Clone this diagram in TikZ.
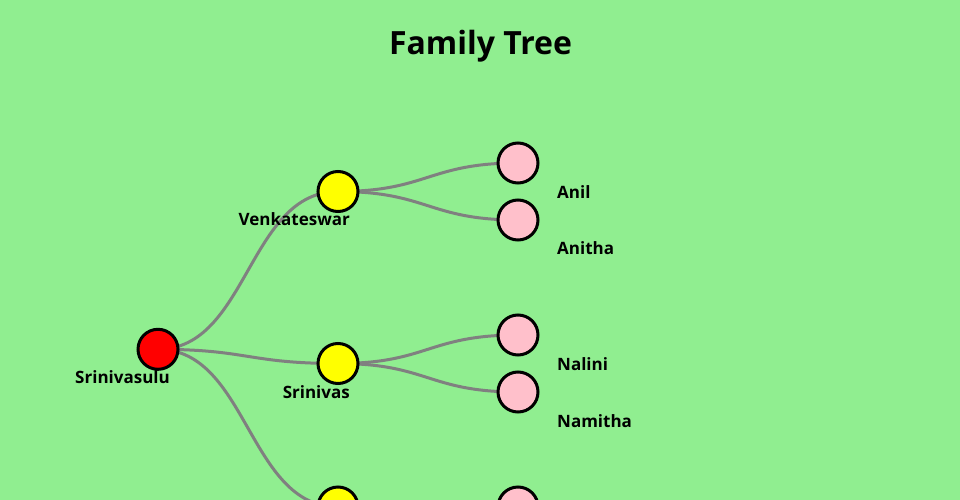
\documentclass[tikz,border=0pt]{standalone}
\usepackage{fontspec}
\setmainfont{Open Sans}
\usetikzlibrary{backgrounds}
\definecolor{bgc}{HTML}{90EE90}
\definecolor{linkc}{HTML}{808080}
\definecolor{rootc}{HTML}{FF0000}
\definecolor{midc}{HTML}{FFFF00}
\definecolor{leafc}{HTML}{FFC0CB}
\tikzset{
  person/.style={circle, draw=black, line width=3pt, minimum size=40pt, inner sep=0pt},
  rootnode/.style={person, fill=rootc},
  midnode/.style={person, fill=midc},
  leafnode/.style={person, fill=leafc},
  link/.style={draw=linkc, line width=3pt},
  lbl/.style={font=\fontsize{17}{20}\selectfont\bfseries, inner sep=0pt},
  ttl/.style={font=\fontsize{32}{38}\selectfont\bfseries, inner sep=0pt}
}
\begin{document}
\begin{tikzpicture}[x=1pt,y=-1pt]
\useasboundingbox (0,0) rectangle (960,500);
\clip (0,0) rectangle (960,500);
\node[ttl, anchor=base] (title) at (480.5,55) {Family Tree};
\node[rootnode] (root) at (158,349.3) {};
\node[midnode] (v) at (338,191.5) {};
\node[midnode] (s) at (338,363.5) {};
\node[midnode] (t) at (338,507) {};
\node[leafnode] (anil) at (518,163) {};
\node[leafnode] (anitha) at (518,220) {};
\node[leafnode] (nalini) at (518,335) {};
\node[leafnode] (namitha) at (518,392) {};
\node[leafnode] (tl) at (518,507) {};
\begin{scope}[on background layer]
\fill[bgc] (0,0) rectangle (960,500);
\draw[link] (root.center) .. controls +(90,0) and +(-90,0) .. (v.center);
\draw[link] (root.center) .. controls +(90,0) and +(-90,0) .. (s.center);
\draw[link] (root.center) .. controls +(90,0) and +(-90,0) .. (t.center);
\draw[link] (v.center) .. controls +(90,0) and +(-90,0) .. (anil.center);
\draw[link] (v.center) .. controls +(90,0) and +(-90,0) .. (anitha.center);
\draw[link] (s.center) .. controls +(90,0) and +(-90,0) .. (nalini.center);
\draw[link] (s.center) .. controls +(90,0) and +(-90,0) .. (namitha.center);
\draw[link] (t.center) .. controls +(90,0) and +(-90,0) .. (tl.center);
\end{scope}
\node[lbl, anchor=base east] (lroot) at (170,383) {Srinivasulu};
\node[lbl, anchor=base east] (lv) at (350,225) {Venkateswar};
\node[lbl, anchor=base east] (ls) at (350,398) {Srinivas};
\node[lbl, anchor=base west] (lanil) at (557,198) {Anil};
\node[lbl, anchor=base west] (lanitha) at (557,254) {Anitha};
\node[lbl, anchor=base west] (lnalini) at (557,370) {Nalini};
\node[lbl, anchor=base west] (lnamitha) at (557,427) {Namitha};
\end{tikzpicture}
\end{document}
